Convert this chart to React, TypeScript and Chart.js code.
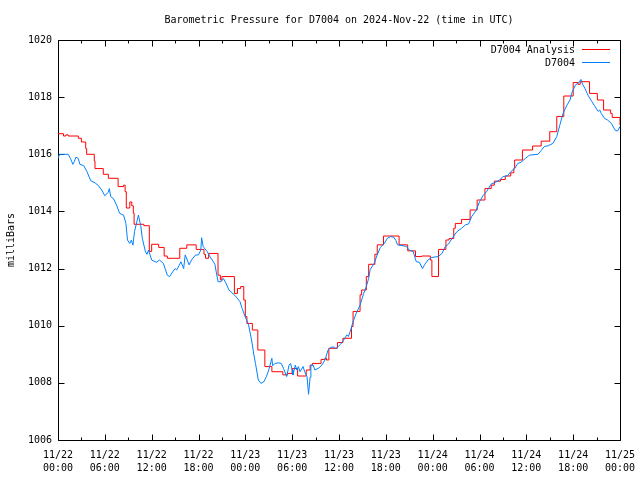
import React, { useEffect, useRef } from "react";
import { Chart, registerables } from "chart.js";

Chart.register(...registerables);

const TITLE = "Barometric Pressure for D7004 on 2024-Nov-22 (time in UTC)";
const Y_TITLE = "milliBars";
const SERIES_NAMES = ["D7004 Analysis", "D7004"];
const SERIES_COLORS = ["#ff0000", "#0080ff"];

const Y_TICKS = [1006, 1008, 1010, 1012, 1014, 1016, 1018, 1020];
const X_TICK_HOURS = [0, 6, 12, 18, 24, 30, 36, 42, 48, 54, 60, 66, 72];
const X_TICK_DATES = ["11/22", "11/22", "11/22", "11/22", "11/23", "11/23", "11/23", "11/23", "11/24", "11/24", "11/24", "11/24", "11/25"];
const X_TICK_TIMES = ["00:00", "06:00", "12:00", "18:00", "00:00", "06:00", "12:00", "18:00", "00:00", "06:00", "12:00", "18:00", "00:00"];
const X_MINOR_HOURS = [3, 9, 15, 21, 27, 33, 39, 45, 51, 57, 63, 69];

// Analysis (stepped): hour at which each level starts, and the level
const ANALYSIS_HOURS = [
  0, 0.7, 1.0, 1.3, 2.6, 3.0, 3.55, 3.67, 4.65, 4.74, 5.8, 6.45, 7.7, 8.4, 8.6, 8.75, 9.2, 9.45, 9.65, 9.75,
  11.0, 11.7, 12.0, 12.9, 13.6, 14.0, 15.6, 16.5, 17.7, 18.7, 18.9, 19.3, 20.5, 20.8, 21.0, 22.6, 23.0, 23.4, 23.8, 24.0,
  24.2, 24.9, 25.6, 26.5, 27.4, 28.8, 29.4, 30.0, 30.7, 31.8, 32.3, 32.6, 33.7, 34.2, 34.4, 34.7, 35.8, 36.5, 37.6, 37.8,
  38.7, 38.9, 39.5, 39.8, 40.6, 40.9, 41.7, 43.7, 44.8, 45.8, 46.6, 47.7, 47.9, 48.75, 49.7, 50.1, 50.7, 50.9, 51.7, 52.8,
  53.7, 54.7, 55.5, 55.9, 56.7, 57.3, 58.0, 58.4, 58.5, 59.5, 60.8, 61.9, 63.0, 63.9, 64.8, 66.0, 66.6, 66.9, 68.1, 69.1,
  69.9, 70.8, 71.0, 72.0,
];
const ANALYSIS_MB = [
  1016.72, 1016.64, 1016.68, 1016.64, 1016.56, 1016.43, 1016.2, 1016.0, 1015.77, 1015.5, 1015.3, 1015.16, 1014.87, 1014.92, 1014.69, 1014.12, 1014.33, 1014.2, 1013.94, 1013.55,
  1013.5, 1012.6, 1012.85, 1012.74, 1012.44, 1012.36, 1012.71, 1012.83, 1012.67, 1012.5, 1012.36, 1012.53, 1011.77, 1011.6, 1011.72, 1011.13, 1011.3, 1011.37, 1010.9, 1010.32,
  1010.08, 1009.85, 1009.15, 1008.57, 1008.39, 1008.28, 1008.33, 1008.5, 1008.24, 1008.45, 1008.62, 1008.68, 1008.82, 1008.86, 1008.8, 1009.21, 1009.41, 1009.56, 1009.97, 1010.5,
  1011.08, 1011.25, 1011.72, 1012.15, 1012.5, 1012.83, 1013.14, 1012.83, 1012.62, 1012.42, 1012.44, 1012.3, 1011.72, 1012.67, 1013.0, 1013.05, 1013.41, 1013.58, 1013.72, 1014.05,
  1014.4, 1014.8, 1014.92, 1015.06, 1015.12, 1015.24, 1015.35, 1015.51, 1015.8, 1016.15, 1016.29, 1016.46, 1016.79, 1017.32, 1018.04, 1018.51, 1018.45, 1018.54, 1018.13, 1017.9,
  1017.55, 1017.43, 1017.29, 1017.02,
];

// Observed D7004
const OBS_HOURS = [
  0, 0.2, 1.3, 1.6, 1.9, 2.1, 2.3, 2.6, 2.8, 3.3, 3.7, 4.2, 4.75, 5.2, 5.6, 6.0, 6.45, 6.57, 6.75, 7.1,
  7.5, 7.9, 8.4, 8.7, 8.9, 9.2, 9.4, 9.6, 9.8, 10.3, 10.6, 10.8, 11.2, 11.4, 11.6, 12.0, 12.6, 13.0, 13.5, 14.0,
  14.3, 14.7, 15.0, 15.2, 15.5, 15.75, 16.1, 16.3, 16.8, 17.1, 17.6, 18.0, 18.3, 18.4, 18.6, 19.1, 19.5, 19.85, 20.1, 20.3,
  20.5, 20.9, 21.2, 21.5, 21.9, 22.7, 23.3, 23.6, 24.0, 24.4, 24.8, 25.1, 25.3, 25.66, 26.0, 26.4, 26.7, 27.0, 27.4, 27.5,
  27.8, 28.2, 28.6, 28.9, 29.3, 29.6, 29.8, 30.0, 30.1, 30.4, 30.6, 30.8, 31.0, 31.4, 31.6, 31.9, 32.1, 32.3, 32.4, 32.7,
  32.9, 33.4, 33.8, 34.2, 34.6, 35.0, 35.4, 35.6, 35.9, 36.2, 36.55, 37.0, 37.2, 37.5, 37.8, 38.2, 38.7, 39.1, 39.5, 39.8,
  40.0, 40.5, 40.9, 41.3, 41.8, 42.2, 42.6, 43.0, 43.3, 43.5, 44.6, 45.0, 45.5, 45.9, 46.3, 46.7, 47.0, 47.4, 47.9, 48.7,
  49.2, 49.6, 50.0, 50.5, 51.1, 51.7, 52.2, 52.6, 53.0, 53.6, 54.0, 54.5, 54.9, 55.5, 55.9, 56.6, 57.0, 57.6, 58.0, 58.5,
  58.9, 59.3, 59.9, 60.4, 61.5, 61.9, 62.3, 62.8, 63.4, 63.9, 64.3, 64.7, 65.2, 65.6, 65.8, 66.3, 66.7, 67.0, 67.2, 67.5,
  67.9, 68.4, 68.8, 69.2, 69.4, 69.6, 70.0, 70.4, 70.9, 71.4, 71.7, 72.0,
];
const OBS_MB = [
  1015.85, 1016.0, 1016.0, 1015.85, 1015.65, 1015.75, 1015.9, 1015.85, 1015.65, 1015.6, 1015.4, 1015.07, 1015.0, 1014.9, 1014.75, 1014.55, 1014.67, 1014.8, 1014.52, 1014.45,
  1014.22, 1013.93, 1013.87, 1013.58, 1013.0, 1012.88, 1013.0, 1012.82, 1013.29, 1013.87, 1013.5, 1013.06, 1012.59, 1012.5, 1012.65, 1012.3, 1012.22, 1012.3, 1012.18, 1011.77,
  1011.72, 1011.89, 1012.0, 1011.95, 1012.1, 1012.24, 1012.0, 1012.48, 1012.13, 1012.3, 1012.47, 1012.48, 1012.65, 1013.08, 1012.77, 1012.6, 1012.4, 1012.26, 1012.15, 1011.84,
  1011.54, 1011.54, 1011.65, 1011.5, 1011.25, 1011.05, 1010.85, 1010.6, 1010.3, 1010.05, 1009.5, 1008.97, 1008.68, 1008.1, 1007.98, 1008.05, 1008.22, 1008.45, 1008.86, 1008.6,
  1008.68, 1008.7, 1008.68, 1008.5, 1008.22, 1008.62, 1008.68, 1008.45, 1008.28, 1008.62, 1008.45, 1008.57, 1008.39, 1008.57, 1008.39, 1008.22, 1007.6, 1008.2, 1008.62, 1008.62,
  1008.45, 1008.52, 1008.62, 1008.8, 1009.15, 1009.25, 1009.25, 1009.2, 1009.27, 1009.35, 1009.48, 1009.68, 1009.62, 1009.85, 1010.14, 1010.43, 1010.72, 1011.08, 1011.37, 1011.66,
  1011.97, 1012.18, 1012.48, 1012.74, 1012.88, 1013.06, 1013.12, 1013.1, 1012.98, 1012.83, 1012.78, 1012.65, 1012.6, 1012.24, 1012.22, 1012.0, 1012.15, 1012.3, 1012.39, 1012.42,
  1012.53, 1012.77, 1012.85, 1013.06, 1013.29, 1013.41, 1013.53, 1013.56, 1013.82, 1014.05, 1014.34, 1014.57, 1014.69, 1014.96, 1015.0, 1015.1, 1015.22, 1015.25, 1015.39, 1015.5,
  1015.68, 1015.72, 1015.86, 1015.97, 1016.0, 1016.13, 1016.27, 1016.3, 1016.38, 1016.62, 1017.03, 1017.43, 1017.72, 1017.9, 1018.13, 1018.43, 1018.5, 1018.62, 1018.45, 1018.31,
  1018.07, 1017.84, 1017.67, 1017.5, 1017.55, 1017.43, 1017.26, 1017.2, 1017.08, 1016.83, 1016.82, 1016.97,
];

const FONT = '10px "DejaVu Sans Mono", monospace';

const gnuplotFrame = {
  id: "gnuplotFrame",
  beforeDatasetsDraw(chart: any) {
    const { ctx, chartArea } = chart;
    const xs = chart.scales.x;
    const ys = chart.scales.y;
    const L = Math.round(chartArea.left) + 0.5;
    const R = Math.round(chartArea.right) + 0.5;
    const T = Math.round(chartArea.top) + 0.5;
    const B = Math.round(chartArea.bottom) + 0.5;
    ctx.save();
    ctx.strokeStyle = "#000";
    ctx.lineWidth = 1;
    ctx.beginPath();
    ctx.rect(L, T, R - L, B - T);
    const major = 6;
    const minor = 3;
    Y_TICKS.forEach((v) => {
      const y = Math.round(ys.getPixelForValue(v)) + 0.5;
      ctx.moveTo(L, y); ctx.lineTo(L + major, y);
      ctx.moveTo(R, y); ctx.lineTo(R - major, y);
    });
    X_TICK_HOURS.forEach((h) => {
      const x = Math.round(xs.getPixelForValue(h)) + 0.5;
      ctx.moveTo(x, B); ctx.lineTo(x, B - major);
      ctx.moveTo(x, T); ctx.lineTo(x, T + major);
    });
    X_MINOR_HOURS.forEach((h) => {
      const x = Math.round(xs.getPixelForValue(h)) + 0.5;
      ctx.moveTo(x, B); ctx.lineTo(x, B - minor);
      ctx.moveTo(x, T); ctx.lineTo(x, T + minor);
    });
    ctx.stroke();
    ctx.restore();
  },
  afterDraw(chart: any) {
    const { ctx, chartArea } = chart;
    const xs = chart.scales.x;
    const ys = chart.scales.y;
    ctx.save();
    ctx.fillStyle = "#000";
    ctx.font = FONT;
    ctx.textBaseline = "middle";
    // y tick labels
    ctx.textAlign = "right";
    Y_TICKS.forEach((v) => {
      ctx.fillText(String(v), chartArea.left - 6, ys.getPixelForValue(v));
    });
    // x tick labels
    ctx.textAlign = "center";
    X_TICK_HOURS.forEach((h, i) => {
      const x = xs.getPixelForValue(h);
      ctx.fillText(X_TICK_DATES[i], x, chartArea.bottom + 15);
      ctx.fillText(X_TICK_TIMES[i], x, chartArea.bottom + 28);
    });
    // title
    ctx.fillText(TITLE, (chartArea.left + chartArea.right) / 2, 20);
    // y title
    ctx.save();
    ctx.translate(11, (chartArea.top + chartArea.bottom) / 2);
    ctx.rotate(-Math.PI / 2);
    ctx.fillText(Y_TITLE, 0, 0);
    ctx.restore();
    // legend
    ctx.textAlign = "right";
    SERIES_NAMES.forEach((name, i) => {
      const y = chartArea.top + 10 + i * 13;
      ctx.fillStyle = "#000";
      ctx.fillText(name, chartArea.right - 45, y);
      ctx.strokeStyle = SERIES_COLORS[i];
      ctx.lineWidth = 1;
      ctx.beginPath();
      ctx.moveTo(chartArea.right - 38, Math.round(y) - 0.5);
      ctx.lineTo(chartArea.right - 10, Math.round(y) - 0.5);
      ctx.stroke();
    });
    ctx.restore();
  },
};

export default function App() {
  const canvasRef = useRef<HTMLCanvasElement | null>(null);

  useEffect(() => {
    const canvas = canvasRef.current;
    if (!canvas) return;
    const analysis = ANALYSIS_HOURS.map((h, i) => ({ x: h, y: ANALYSIS_MB[i] }));
    const obs = OBS_HOURS.map((h, i) => ({ x: h, y: OBS_MB[i] }));
    const chart = new Chart(canvas, {
      type: "line",
      data: {
        datasets: [
          {
            label: SERIES_NAMES[0],
            data: analysis,
            borderColor: SERIES_COLORS[0],
            borderWidth: 1,
            pointRadius: 0,
            stepped: "before",
            fill: false,
            order: 1,
          },
          {
            label: SERIES_NAMES[1],
            data: obs,
            borderColor: SERIES_COLORS[1],
            borderWidth: 1,
            pointRadius: 0,
            tension: 0,
            fill: false,
            order: 0,
          },
        ],
      },
      options: {
        responsive: false,
        animation: false,
        devicePixelRatio: 1,
        layout: { padding: { left: 58, right: 20, top: 40, bottom: 40 } },
        plugins: { legend: { display: false }, title: { display: false }, tooltip: { enabled: false } },
        scales: {
          x: { type: "linear", min: 0, max: 72, display: false },
          y: { type: "linear", min: 1006, max: 1020, display: false },
        },
      },
      plugins: [gnuplotFrame],
    });
    return () => chart.destroy();
  }, []);

  return (
    <div style={{ position: "absolute", left: 0, top: 0, width: 640, height: 480, background: "#fff" }}>
      <canvas ref={canvasRef} width={640} height={480} style={{ display: "block" }} />
    </div>
  );
}
